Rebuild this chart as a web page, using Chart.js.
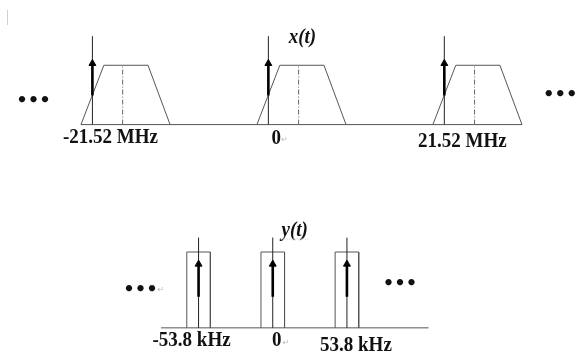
<!DOCTYPE html>
<html><head><meta charset="utf-8">
<script src="https://cdn.jsdelivr.net/npm/chart.js@4.4.1/dist/chart.umd.min.js"></script>
<style>
html,body{margin:0;padding:0;background:#fff;}
#wrap{position:relative;width:579px;height:363px;overflow:hidden;}
canvas{position:absolute;left:0;top:0;}
</style></head><body>
<div id="wrap"><canvas id="cx" width="579" height="363"></canvas><canvas id="cy" width="579" height="363"></canvas></div>
<script>
// ---- x(t) spectrum (MHz) ----
const xCentersMHz = [-21.52, 0, 21.52];
const xTickLabels = ['-21.52 MHz', '0', '21.52 MHz'];
const xBandEdgesMHz = [-1.4, 1.4, 6.8, 9.5];
const xBandLevels = [0, 1, 1, 0];
const xBandMidMHz = 3.7;
const xImpulseTop = 1.49;
const xArrowFrom = 0.49;
const xArrowTip = 1.03;
const xTitle = 'x(t)';

// ---- y(t) spectrum (kHz) ----
const yCentersKHz = [-53.8, 0, 53.8];
const yTickLabels = ['-53.8 kHz', '0', '53.8 kHz'];
const yRectHalfWidthKHz = 8.55;
const yRectLevel = 1;
const yImpulseTop = 1.19;
const yArrowFrom = 0.41;
const yArrowTip = 0.84;
const yAxisRangeKHz = [-81, 113];
const yTitle = 'y(t)';

const dotsText = '\u2022\u2022\u2022';

function segs(centers, fn) {
  const out = [];
  centers.forEach((c, i) => { if (i) out.push({x: c, y: null}); fn(c).forEach(p => out.push(p)); });
  return out;
}
function lineDs(data, color, width, dash) {
  return {type: 'line', data, borderColor: color, borderWidth: width, borderDash: dash || [],
    pointRadius: 0, tension: 0, fill: false, spanGaps: false};
}
function headDs(data) {
  return {type: 'scatter', data, pointStyle: 'triangle', pointRadius: 4, pointHoverRadius: 4,
    backgroundColor: '#000', borderColor: '#000', borderWidth: 1, showLine: false};
}
function textPlugin(id, draw) {
  return {id, afterDraw(chart) { const ctx = chart.ctx; ctx.save(); draw(chart, ctx); ctx.restore(); }};
}
function baseOptions(xmin, xmax, ymin, ymax) {
  return {
    responsive: false, animation: false, events: [],
    layout: {padding: 0},
    plugins: {legend: {display: false}, tooltip: {enabled: false}},
    scales: {
      x: {type: 'linear', display: false, min: xmin, max: xmax},
      y: {type: 'linear', display: false, min: ymin, max: ymax}
    }
  };
}
const serifBold = 'bold 19px "Liberation Serif", "Times New Roman", serif';
const serifBI = 'italic bold 19px "Liberation Serif", "Times New Roman", serif';
const dotsFont = 'bold 18px "DejaVu Sans", sans-serif';
function tallText(ctx, txt, x, y) {
  ctx.save(); ctx.translate(x, y); ctx.scale(1, 1.12); ctx.fillText(txt, 0, 0); ctx.restore();
}
function returnMark(ctx, x, y) {
  ctx.font = '8px "DejaVu Sans", sans-serif';
  ctx.fillStyle = '#b8b8b8';
  ctx.textAlign = 'left'; ctx.textBaseline = 'middle';
  ctx.fillText('\u21B5', x, y);
}

// ---- top chart ----
const xLabelDx = [18, 8, 18];
const xLabelDy = [13, 14, 17];
new Chart(document.getElementById('cx'), {
  type: 'line',
  data: {datasets: [
    headDs(xCentersMHz.map(c => ({x: c, y: xArrowTip}))),
    lineDs(segs(xCentersMHz, c => [{x: c, y: xArrowFrom}, {x: c, y: xArrowTip}]), '#000', 2.6),
    lineDs(segs(xCentersMHz, c => [{x: c, y: 0}, {x: c, y: xImpulseTop}]), '#222', 1),
    lineDs(segs(xCentersMHz, c => [{x: c + xBandMidMHz, y: 0}, {x: c + xBandMidMHz, y: 1}]), '#666', 1, [5, 2, 1, 2]),
    lineDs(segs(xCentersMHz, c => xBandEdgesMHz.map((e, k) => ({x: c + e, y: xBandLevels[k]})))
      , '#555', 1),
    lineDs([{x: xCentersMHz[0] + xBandEdgesMHz[0], y: 0},
            {x: xCentersMHz[2] + xBandEdgesMHz[3], y: 0}], '#555', 1)
  ]},
  options: baseOptions(-32.21, 37.38, 2.016 - 363 / 61, 2.016),
  plugins: [textPlugin('xtext', (chart, ctx) => {
    const xs = chart.scales.x, ys = chart.scales.y;
    const y0 = ys.getPixelForValue(0);
    ctx.fillStyle = '#111';
    ctx.font = serifBold; ctx.textAlign = 'center'; ctx.textBaseline = 'middle';
    xCentersMHz.forEach((c, i) => tallText(ctx, xTickLabels[i], xs.getPixelForValue(c) + xLabelDx[i], y0 + xLabelDy[i]));
    returnMark(ctx, xs.getPixelForValue(0) + 13, y0 + 15);
    ctx.font = serifBI; ctx.fillStyle = '#111'; ctx.textAlign = 'center';
    tallText(ctx, xTitle, xs.getPixelForValue(0) + 34, ys.getPixelForValue(xImpulseTop) + 1);
    ctx.font = dotsFont;
    ctx.fillText(dotsText, xs.getPixelForValue(xCentersMHz[0]) - 59, y0 - 23);
    ctx.fillText(dotsText, xs.getPixelForValue(xCentersMHz[2]) + 116, y0 - 29);
    ctx.strokeStyle = '#d0d0d0'; ctx.lineWidth = 1;
    ctx.beginPath(); ctx.moveTo(7.5, 10); ctx.lineTo(7.5, 25); ctx.stroke();
  })]
});

// ---- bottom chart ----
const yLabelDx = [-7, 4, 9];
const yLabelDy = [13, 13, 18];
new Chart(document.getElementById('cy'), {
  type: 'line',
  data: {datasets: [
    headDs(yCentersKHz.map(c => ({x: c, y: yArrowTip}))),
    lineDs(segs(yCentersKHz, c => [{x: c, y: yArrowFrom}, {x: c, y: yArrowTip}]), '#000', 2.6),
    lineDs(segs(yCentersKHz, c => [{x: c, y: 0}, {x: c, y: yImpulseTop}]), '#222', 1),
    lineDs(segs(yCentersKHz, c => [
      {x: c - yRectHalfWidthKHz, y: 0}, {x: c - yRectHalfWidthKHz, y: yRectLevel},
      {x: c + yRectHalfWidthKHz, y: yRectLevel}, {x: c + yRectHalfWidthKHz, y: 0}]), '#555', 1),
    lineDs([{x: yAxisRangeKHz[0], y: 0}, {x: yAxisRangeKHz[1], y: 0}], '#555', 1)
  ]},
  options: baseOptions(-194.2, 218.5, 332 / 78 - 363 / 78, 332 / 78),
  plugins: [textPlugin('ytext', (chart, ctx) => {
    const xs = chart.scales.x, ys = chart.scales.y;
    const y0 = ys.getPixelForValue(0);
    ctx.fillStyle = '#111';
    ctx.font = serifBold; ctx.textAlign = 'center'; ctx.textBaseline = 'middle';
    yCentersKHz.forEach((c, i) => tallText(ctx, yTickLabels[i], xs.getPixelForValue(c) + yLabelDx[i], y0 + yLabelDy[i]));
    returnMark(ctx, xs.getPixelForValue(0) + 10, y0 + 15);
    ctx.font = serifBI; ctx.fillStyle = '#111'; ctx.textAlign = 'center';
    tallText(ctx, yTitle, xs.getPixelForValue(0) + 22, ys.getPixelForValue(yImpulseTop) - 7);
    ctx.strokeStyle = '#ccc'; ctx.setLineDash([1, 1]);
    const tx = xs.getPixelForValue(0) + 22, ty = ys.getPixelForValue(yImpulseTop) + 1;
    ctx.beginPath(); ctx.moveTo(tx - 12, ty + 0.5); ctx.lineTo(tx + 14, ty + 0.5); ctx.stroke();
    ctx.setLineDash([]);
    ctx.font = dotsFont; ctx.fillStyle = '#111';
    ctx.fillText(dotsText, xs.getPixelForValue(yCentersKHz[0]) - 58, y0 - 38);
    ctx.fillText(dotsText, xs.getPixelForValue(yCentersKHz[2]) + 53, y0 - 44);
    returnMark(ctx, xs.getPixelForValue(yCentersKHz[0]) - 41, y0 - 38);
  })]
});
</script>
</body></html>
